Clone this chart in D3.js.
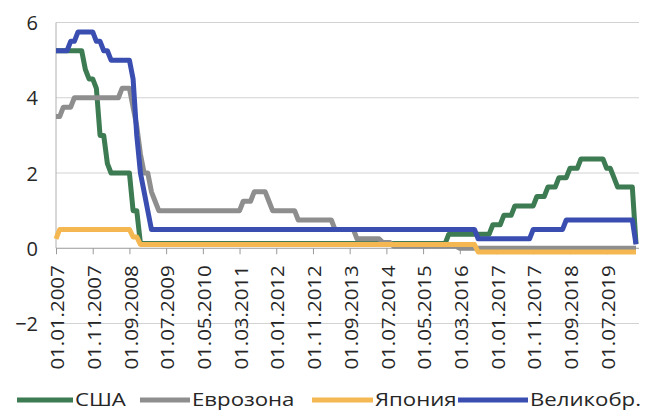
<!DOCTYPE html>
<html>
<head>
<meta charset="utf-8">
<script src="https://cdn.jsdelivr.net/npm/d3@7"></script>
<style>
  body { margin: 0; background: #fff; }
  svg { display: block; }
  text { font-family: "Open Sans", sans-serif; fill: #262626; }
</style>
</head>
<body>
<svg id="chart" width="646" height="411"></svg>
<script>
// monthly categories, 01.01.2007 .. 01.03.2020
const fmt = d3.timeFormat("%d.%m.%Y");
const categories = d3.timeMonth.range(new Date(2007, 0, 1), new Date(2020, 3, 1)).map(fmt);

const tickLabels = ["01.01.2007", "01.11.2007", "01.09.2008", "01.07.2009", "01.05.2010",
  "01.03.2011", "01.01.2012", "01.11.2012", "01.09.2013", "01.07.2014", "01.05.2015",
  "01.03.2016", "01.01.2017", "01.11.2017", "01.09.2018", "01.07.2019"];
const yTicks = [-2, 0, 2, 4, 6];

// policy rates, % (one row per year)
const usa = [
  5.25, 5.25, 5.25, 5.25, 5.25, 5.25, 5.25, 5.25, 4.75, 4.5, 4.5, 4.25,
  3, 3, 2.25, 2, 2, 2, 2, 2, 2, 1, 1, 0.125,
  0.125, 0.125, 0.125, 0.125, 0.125, 0.125, 0.125, 0.125, 0.125, 0.125, 0.125, 0.125,
  0.125, 0.125, 0.125, 0.125, 0.125, 0.125, 0.125, 0.125, 0.125, 0.125, 0.125, 0.125,
  0.125, 0.125, 0.125, 0.125, 0.125, 0.125, 0.125, 0.125, 0.125, 0.125, 0.125, 0.125,
  0.125, 0.125, 0.125, 0.125, 0.125, 0.125, 0.125, 0.125, 0.125, 0.125, 0.125, 0.125,
  0.125, 0.125, 0.125, 0.125, 0.125, 0.125, 0.125, 0.125, 0.125, 0.125, 0.125, 0.125,
  0.125, 0.125, 0.125, 0.125, 0.125, 0.125, 0.125, 0.125, 0.125, 0.125, 0.125, 0.125,
  0.125, 0.125, 0.125, 0.125, 0.125, 0.125, 0.125, 0.125, 0.125, 0.125, 0.125, 0.375,
  0.375, 0.375, 0.375, 0.375, 0.375, 0.375, 0.375, 0.375, 0.375, 0.375, 0.375, 0.625,
  0.625, 0.625, 0.875, 0.875, 0.875, 1.125, 1.125, 1.125, 1.125, 1.125, 1.125, 1.375,
  1.375, 1.375, 1.625, 1.625, 1.625, 1.875, 1.875, 1.875, 2.125, 2.125, 2.125, 2.375,
  2.375, 2.375, 2.375, 2.375, 2.375, 2.375, 2.125, 2.125, 1.875, 1.625, 1.625, 1.625,
  1.625, 1.625, 0.125
];
const euro = [
  3.5, 3.5, 3.75, 3.75, 3.75, 4, 4, 4, 4, 4, 4, 4,
  4, 4, 4, 4, 4, 4, 4.25, 4.25, 4.25, 3.75, 3.25, 2.5,
  2, 2, 1.5, 1.25, 1, 1, 1, 1, 1, 1, 1, 1,
  1, 1, 1, 1, 1, 1, 1, 1, 1, 1, 1, 1,
  1, 1, 1, 1.25, 1.25, 1.25, 1.5, 1.5, 1.5, 1.5, 1.25, 1,
  1, 1, 1, 1, 1, 1, 0.75, 0.75, 0.75, 0.75, 0.75, 0.75,
  0.75, 0.75, 0.75, 0.75, 0.5, 0.5, 0.5, 0.5, 0.5, 0.5, 0.25, 0.25,
  0.25, 0.25, 0.25, 0.25, 0.25, 0.15, 0.15, 0.15, 0.05, 0.05, 0.05, 0.05,
  0.05, 0.05, 0.05, 0.05, 0.05, 0.05, 0.05, 0.05, 0.05, 0.05, 0.05, 0.05,
  0.05, 0.05, 0, 0, 0, 0, 0, 0, 0, 0, 0, 0,
  0, 0, 0, 0, 0, 0, 0, 0, 0, 0, 0, 0,
  0, 0, 0, 0, 0, 0, 0, 0, 0, 0, 0, 0,
  0, 0, 0, 0, 0, 0, 0, 0, 0, 0, 0, 0,
  0, 0, 0
];
const japan = [
  0.25, 0.5, 0.5, 0.5, 0.5, 0.5, 0.5, 0.5, 0.5, 0.5, 0.5, 0.5,
  0.5, 0.5, 0.5, 0.5, 0.5, 0.5, 0.5, 0.5, 0.5, 0.3, 0.3, 0.1,
  0.1, 0.1, 0.1, 0.1, 0.1, 0.1, 0.1, 0.1, 0.1, 0.1, 0.1, 0.1,
  0.1, 0.1, 0.1, 0.1, 0.1, 0.1, 0.1, 0.1, 0.1, 0.1, 0.1, 0.1,
  0.1, 0.1, 0.1, 0.1, 0.1, 0.1, 0.1, 0.1, 0.1, 0.1, 0.1, 0.1,
  0.1, 0.1, 0.1, 0.1, 0.1, 0.1, 0.1, 0.1, 0.1, 0.1, 0.1, 0.1,
  0.1, 0.1, 0.1, 0.1, 0.1, 0.1, 0.1, 0.1, 0.1, 0.1, 0.1, 0.1,
  0.1, 0.1, 0.1, 0.1, 0.1, 0.1, 0.1, 0.1, 0.1, 0.1, 0.1, 0.1,
  0.1, 0.1, 0.1, 0.1, 0.1, 0.1, 0.1, 0.1, 0.1, 0.1, 0.1, 0.1,
  0.1, 0.1, 0.1, 0.1, 0.1, 0.1, 0.1, -0.1, -0.1, -0.1, -0.1, -0.1,
  -0.1, -0.1, -0.1, -0.1, -0.1, -0.1, -0.1, -0.1, -0.1, -0.1, -0.1, -0.1,
  -0.1, -0.1, -0.1, -0.1, -0.1, -0.1, -0.1, -0.1, -0.1, -0.1, -0.1, -0.1,
  -0.1, -0.1, -0.1, -0.1, -0.1, -0.1, -0.1, -0.1, -0.1, -0.1, -0.1, -0.1,
  -0.1, -0.1, -0.1
];
const uk = [
  5.25, 5.25, 5.25, 5.25, 5.5, 5.5, 5.75, 5.75, 5.75, 5.75, 5.75, 5.5,
  5.5, 5.25, 5.25, 5, 5, 5, 5, 5, 5, 4.5, 3, 2,
  1.5, 1, 0.5, 0.5, 0.5, 0.5, 0.5, 0.5, 0.5, 0.5, 0.5, 0.5,
  0.5, 0.5, 0.5, 0.5, 0.5, 0.5, 0.5, 0.5, 0.5, 0.5, 0.5, 0.5,
  0.5, 0.5, 0.5, 0.5, 0.5, 0.5, 0.5, 0.5, 0.5, 0.5, 0.5, 0.5,
  0.5, 0.5, 0.5, 0.5, 0.5, 0.5, 0.5, 0.5, 0.5, 0.5, 0.5, 0.5,
  0.5, 0.5, 0.5, 0.5, 0.5, 0.5, 0.5, 0.5, 0.5, 0.5, 0.5, 0.5,
  0.5, 0.5, 0.5, 0.5, 0.5, 0.5, 0.5, 0.5, 0.5, 0.5, 0.5, 0.5,
  0.5, 0.5, 0.5, 0.5, 0.5, 0.5, 0.5, 0.5, 0.5, 0.5, 0.5, 0.5,
  0.5, 0.5, 0.5, 0.5, 0.5, 0.5, 0.5, 0.25, 0.25, 0.25, 0.25, 0.25,
  0.25, 0.25, 0.25, 0.25, 0.25, 0.25, 0.25, 0.25, 0.25, 0.25, 0.5, 0.5,
  0.5, 0.5, 0.5, 0.5, 0.5, 0.5, 0.5, 0.75, 0.75, 0.75, 0.75, 0.75,
  0.75, 0.75, 0.75, 0.75, 0.75, 0.75, 0.75, 0.75, 0.75, 0.75, 0.75, 0.75,
  0.75, 0.75, 0.1
];

const seriesNames = ["США", "Еврозона", "Япония", "Великобр."];
const seriesColors = ["#3d7b52", "#8e8e8e", "#f4b751", "#3a4db0"];
const seriesValues = [usa, euro, japan, uk];

const svg = d3.select("#chart");

const x = d3.scalePoint().domain(categories).range([56, 636]);
const y = d3.scaleLinear().domain([-2, 6]).range([323.5, 22.5]);

// gridlines
svg.append("g")
  .selectAll("line")
  .data(yTicks.filter(d => d !== 0))
  .join("line")
  .attr("x1", 56).attr("x2", 639)
  .attr("y1", d => y(d)).attr("y2", d => y(d))
  .attr("stroke", "#d2d2d2").attr("stroke-width", 1);

// y axis line
svg.append("line")
  .attr("x1", 56).attr("x2", 56)
  .attr("y1", y(6)).attr("y2", y(0))
  .attr("stroke", "#b0b0b0");

// y tick labels
const yAxis = svg.append("g")
  .attr("transform", "translate(56,0)")
  .call(d3.axisLeft(y).tickValues(yTicks).tickSize(0).tickPadding(18).tickFormat(d3.format("d")));
yAxis.select(".domain").remove();
yAxis.selectAll("text")
  .attr("font-size", 20)
  .attr("font-family", null)
  .attr("dy", "0.35em");

// x axis at zero
const xAxis = svg.append("g")
  .attr("transform", `translate(0,${y(0)})`)
  .call(d3.axisBottom(x).tickValues(tickLabels).tickSize(6).tickSizeOuter(0));
xAxis.select(".domain").attr("stroke", "#999").attr("d", `M56,0H639`);
xAxis.selectAll(".tick line").attr("stroke", "#999");
xAxis.selectAll("text")
  .attr("font-size", 17.5)
  .attr("font-family", null)
  .attr("y", null)
  .attr("dy", "0.35em")
  .attr("text-anchor", "end")
  .attr("transform", "translate(1.5,17) rotate(-90) scale(1.17,1)");

// lines
const line = d3.line()
  .x((d, i) => x(categories[i]))
  .y(d => y(d));

svg.append("g")
  .selectAll("path")
  .data(seriesValues)
  .join("path")
  .attr("d", line)
  .attr("fill", "none")
  .attr("stroke", (d, i) => seriesColors[i])
  .attr("stroke-width", 5)
  .attr("stroke-linejoin", "round");

// legend
const legendX = [17, 140, 312, 458];
const legendW = [56, 50, 61, 70];
const legend = svg.append("g")
  .selectAll("g")
  .data(seriesNames)
  .join("g")
  .attr("transform", (d, i) => `translate(${legendX[i]},400)`);
legend.append("line")
  .attr("x1", 0).attr("x2", (d, i) => legendW[i])
  .attr("stroke", (d, i) => seriesColors[i])
  .attr("stroke-width", 5);
legend.append("text")
  .attr("transform", (d, i) => `translate(${legendW[i] + 2},0) scale(1.2,1)`)
  .attr("dy", "0.35em")
  .attr("font-size", 18.5)
  .text(d => d);
</script>
</body>
</html>
